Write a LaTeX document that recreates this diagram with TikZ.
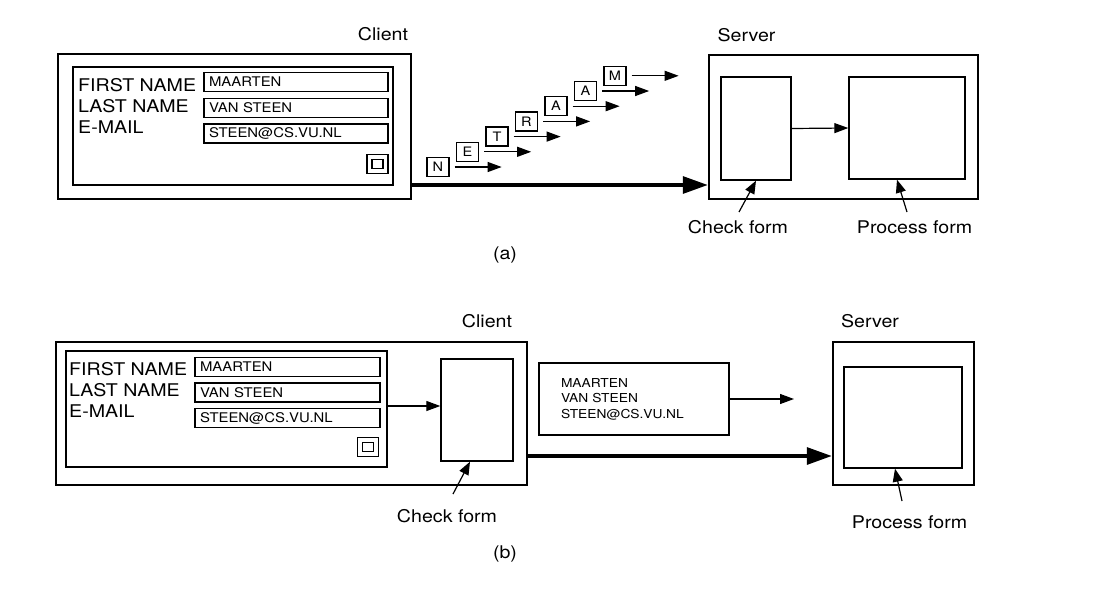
\documentclass[tikz,border=0pt]{standalone}
\usepackage{fontspec}
\setmainfont{TeX Gyre Heros}[FakeStretch=1.12]
\usetikzlibrary{arrows.meta}
\begin{document}
\begin{tikzpicture}[x=1pt,y=-1pt,
  rect/.style n args={2}{draw, inner sep=0pt, minimum width=#1pt, minimum height=#2pt},
  outer/.style={line width=2.5pt},
  inner/.style={line width=1.4pt},
  field/.style={draw, line width=1.4pt, minimum height=19pt, inner ysep=0pt, inner xsep=5pt,
     text width=174pt, align=left, font=\fontsize{13.3}{14}\selectfont},
  letter/.style={draw, line width=1.3pt, inner sep=0pt, minimum width=22pt, minimum height=19pt,
     font=\fontsize{13}{14}\selectfont},
  lbl/.style={font=\fontsize{17.5}{20}\selectfont, inner sep=0pt},
  formlbl/.style={font=\fontsize{17.5}{20}\selectfont, inner sep=0pt, anchor=base west},
  thinarr/.style={line width=1.2pt, -{Triangle[length=14pt,width=10pt]}},
  thickarr/.style={line width=3.2pt, -{Triangle[length=25pt,width=17pt]}},
  ptr/.style={line width=1.2pt, -{Triangle[length=13pt,width=10pt]}}
]
\useasboundingbox (0,0) rectangle (1114,592);

% ================= (a) =================
\node[rect={353}{145}, outer] (clA) at (234.5,126.5) {};
\node[rect={320}{118}, inner] (frmA) at (233,126) {};
\node[formlbl] (l1A) at (78,91) {FIRST NAME};
\node[formlbl] (l2A) at (78,112) {LAST NAME};
\node[formlbl] (l3A) at (78,133) {E-MAIL};
\node[field] (f1A) at (296,82) {MAARTEN};
\node[field] (f2A) at (296,108) {VAN STEEN};
\node[field] (f3A) at (296,133.5) {STEEN@CS.VU.NL};
\node[rect={21}{19}, inner] (btA) at (377.5,164) {};
\node[rect={11}{9}, inner] (bt2A) at (btA.center) {};

\node[lbl, anchor=base] (cliA) at (383,40) {Client};
\node[lbl, anchor=base] (srvA) at (746.5,41) {Server};

\node[rect={269}{144}, outer] (svA) at (843.5,127) {};
\node[rect={70}{103}, inner] (chkA) at (756,128.5) {};
\node[rect={116}{102}, inner] (prA) at (907,128) {};
\draw[thinarr] (chkA.east) -- (prA.west);

\foreach \l [count=\i from 0] in {N,E,T,R,A,A,M} {
  \node[letter] (n\i) at ({438+29.5*\i},{167-15.2*\i}) {\l};
  \draw[thinarr] ([xshift=5pt]n\i.east) -- ([xshift=52pt]n\i.east);
}

\coordinate (taA) at (411,185);
\draw[thickarr] (taA) -- (taA -| svA.west);

\node[lbl, anchor=base] (lchkA) at (738,233) {Check form};
\node[lbl, anchor=base] (lprA) at (914.5,233) {Process form};
\coordinate (p1) at (739,212);
\coordinate (p2) at (907,212);
\draw[ptr] (p1) -- (chkA.south);
\draw[ptr] (p2) -- ([xshift=-10pt]prA.south);

\node[lbl, anchor=base] (capA) at (505,259) {(a)};

% ================= (b) =================
\node[rect={471}{143}, outer] (clB) at (291.5,413.5) {};
\node[rect={321}{116}, inner] (frmB) at (226.5,409) {};
\node[formlbl] (l1B) at (69,375) {FIRST NAME};
\node[formlbl] (l2B) at (69,396) {LAST NAME};
\node[formlbl] (l3B) at (69,417) {E-MAIL};
\node[field, text width=175pt] (f1B) at (287.5,367) {MAARTEN};
\node[field, text width=175pt] (f2B) at (287.5,392.5) {VAN STEEN};
\node[field, text width=175pt] (f3B) at (287.5,418) {STEEN@CS.VU.NL};
\node[rect={21}{19}, inner] (btB) at (368,447) {};
\node[rect={11}{9}, inner] (bt2B) at (btB.center) {};

\node[rect={72}{102}, inner] (chkB) at (477,410) {};
\coordinate (faB) at (387,406);
\draw[thinarr] (faB) -- (faB -| chkB.west);

\node[lbl, anchor=base] (cliB) at (487,327) {Client};
\node[lbl, anchor=base] (srvB) at (870,327) {Server};

\node[draw, inner, minimum width=190pt, minimum height=72pt, inner xsep=22pt, inner ysep=0pt,
      text width=146pt, align=left, font=\fontsize{12.3}{15.5}\selectfont] (data) at (634,399)
      {MAARTEN\\VAN STEEN\\STEEN@CS.VU.NL};
\coordinate (dEnd) at (794,399);
\draw[thinarr] (data.east) -- (dEnd);

\node[rect={141}{143}, outer] (svB) at (903.5,413.5) {};
\node[rect={118}{101}, inner] (prB) at (903,417.5) {};

\coordinate (taB) at (527,456);
\draw[thickarr] (taB) -- (taB -| svB.west);

\node[lbl, anchor=base] (lchkB) at (447,522) {Check form};
\node[lbl, anchor=base] (lprB) at (909.5,528) {Process form};
\coordinate (p3) at (453,494);
\coordinate (p4) at (902,501);
\draw[ptr] (p3) -- ([xshift=-7pt]chkB.south);
\draw[ptr] (p4) -- ([xshift=-8pt]prB.south);

\node[lbl, anchor=base] (capB) at (505,558) {(b)};
\end{tikzpicture}
\end{document}
